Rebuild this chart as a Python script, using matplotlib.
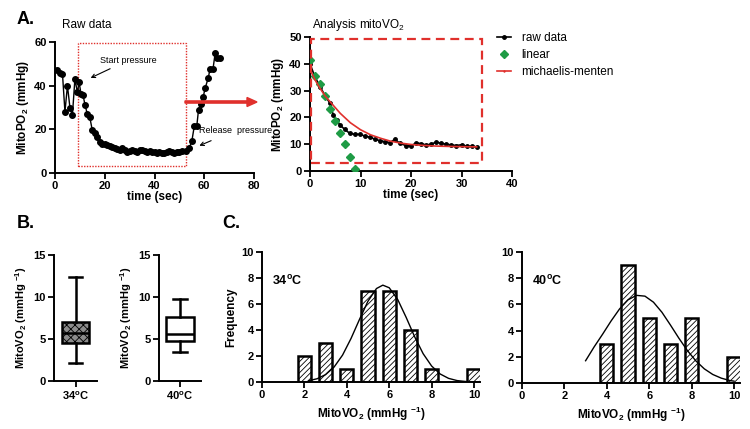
import numpy as np
import matplotlib
matplotlib.use("Agg")
import matplotlib.pyplot as plt
from matplotlib.patches import Rectangle, FancyArrow

plt.rcParams['font.family'] = ['Liberation Sans', 'DejaVu Sans']
plt.rcParams['mathtext.default'] = 'regular'
plt.rcParams['hatch.linewidth'] = 0.6
plt.rcParams['axes.linewidth'] = 1.4

# Panel A: raw data
t_raw = [0.7, 2, 3, 4, 5, 6, 7, 8, 9, 9.7, 10.5, 11.3, 12.1, 13, 14, 15, 16, 16.8, 18, 19,
         20, 21, 22, 23, 24, 25, 26, 27, 28, 29, 30, 31, 32, 33, 34, 35, 36, 37, 38, 39,
         40, 41, 42, 43, 44, 45, 46, 47, 48, 49, 50, 51,
         52.7, 54, 55, 56, 57, 57.7, 58.5, 59.6, 60.4, 61.6, 62.3, 63.5, 64.4, 65.2, 66.5]
y_raw = [47, 46, 45.5, 28, 40, 30, 26.5, 43, 37, 41.5, 36, 35.5, 31, 27, 25.5, 19.5, 18.5, 16.5, 14, 13.5,
         13.5, 13, 12.5, 12, 11.5, 11, 10.5, 11.5, 10.5, 9.5, 10, 10.5, 10, 9.5, 10.5, 10.5, 10, 9.5, 10, 9.5,
         9.5, 9, 9.5, 9, 9, 9.5, 10, 9.5, 9, 9.5, 9.5, 10,
         10, 11.5, 14.5, 21.5, 21.5, 29, 31.5, 35, 39, 43.5, 47.5, 47.5, 55, 52.5, 52.5]

# Panel A: analysis mitoVO2
t_an = [0, 1, 2, 3, 4, 4.6, 5.3, 5.9, 6.9, 7.9, 8.9, 9.9, 10.9, 11.9, 12.9, 13.9, 14.9, 15.8,
        16.8, 17.8, 19, 20, 21, 22, 23, 24, 25, 26, 27, 28, 29, 30, 31, 32, 33]
y_an = [40, 35, 31.5, 28, 25.2, 20.9, 19, 17.2, 15.5, 14, 13.7, 13.7, 13, 12.6, 11.8, 11.3, 10.9, 10.6,
        11.8, 10.3, 9.5, 9.3, 10.5, 10.2, 9.7, 10, 10.8, 10.3, 10, 9.7, 9.5, 9.8, 9.2, 9.2, 9.0]
t_lin = [0, 1, 2, 3, 4, 5, 6, 7, 8, 9]
y_lin = [41.5, 35.5, 32.5, 28, 23, 18.7, 14.3, 10, 5.1, 0.6]
t_mm = [0, 1, 2, 3, 4, 6, 8, 10, 12, 14, 16, 18, 20, 22, 25, 28, 31, 33]
y_mm = [37.8, 34, 30.8, 28, 25.8, 21.5, 18, 15.4, 13.5, 12.2, 11.1, 10.4, 9.9, 9.6, 9.3, 9.15, 9.05, 9.0]

# Panel B: box summaries (whislo, q1, med, q3, whishi)
box34 = [2.2, 4.56, 5.75, 7.0, 12.4]
box40 = [3.5, 4.8, 5.6, 7.58, 9.76]

# Panel C: histograms and fitted curves
bins34 = [2, 3, 4, 5, 6, 7, 8, 10]
freq34 = [2, 3, 1, 7, 7, 4, 1, 1]
fitx34 = [2.2, 2.6, 3.0, 3.4, 3.8, 4.2, 4.6, 5.0, 5.4, 5.7, 6.0, 6.4, 6.8, 7.2, 7.6, 8.0, 8.4, 8.8,
          9.2, 9.6, 10.0]
fity34 = [0.1, 0.25, 0.57, 1.15, 2.07, 3.35, 4.82, 6.22, 7.19, 7.45, 7.25, 6.35, 4.97, 3.48, 2.18,
          1.23, 0.62, 0.28, 0.11, 0.04, 0.01]
bins40 = [4, 5, 6, 7, 8, 10]
freq40 = [3, 9, 5, 3, 5, 2]
fitx40 = [3.0, 3.4, 3.8, 4.2, 4.6, 5.0, 5.4, 5.8, 6.2, 6.6, 7.0, 7.4, 7.8, 8.2, 8.6, 9.0, 9.4, 9.8, 10.0]
fity40 = [1.7, 2.75, 3.72, 4.73, 5.65, 6.35, 6.69, 6.63, 6.17, 5.40, 4.43, 3.42, 2.48, 1.69, 1.08,
          0.65, 0.37, 0.19, 0.14]

W, H = 750, 429
fig = plt.figure(figsize=(7.5, 4.29), dpi=100)


def ax_px(left, top, right, bottom):
    return fig.add_axes([left / W, 1 - bottom / H, (right - left) / W, (bottom - top) / H])


def prism(ax):
    ax.spines['top'].set_visible(False)
    ax.spines['right'].set_visible(False)
    ax.tick_params(width=1.3, length=4, labelsize=8, pad=2)
    for lab in ax.get_xticklabels() + ax.get_yticklabels():
        lab.set_fontweight('bold')


red = '#e0302c'

# ---- A left: raw data
ax1 = ax_px(55, 42, 254, 173)
ax1.plot(t_raw, y_raw, '-o', color='black', lw=1, ms=4)
ax1.set_xlim(0, 80)
ax1.set_ylim(0, 60)
ax1.set_xticks([0, 20, 40, 60, 80])
ax1.set_yticks([0, 20, 40, 60])
ax1.set_xlabel('time (sec)', fontsize=8.5, fontweight='bold', labelpad=0)
ax1.set_ylabel('MitoPO$_2$ (mmHg)', fontsize=8.5, fontweight='bold', labelpad=2)
ax1.add_patch(Rectangle((9.3, 3.2), 43.2, 56.5, fill=False, ec=red, lw=1, ls=(0, (1, 1)),
                        clip_on=False))
ax1.annotate('Start pressure', xy=(13.3, 43), xytext=(18, 50.5), fontsize=6.5,
             arrowprops=dict(arrowstyle='->', color='black', lw=0.8))
ax1.annotate('Release  pressure', xy=(57, 12), xytext=(58, 18.5), fontsize=6.5,
             arrowprops=dict(arrowstyle='->', color='black', lw=0.8, shrinkA=6))
prism(ax1)

# ---- A right: analysis
ax2 = ax_px(310, 37, 512, 171)
ax2.plot(t_an, y_an, '-o', color='black', lw=1.2, ms=2.5, label='raw data', zorder=3)
ax2.plot(t_lin, y_lin, 'D', color='#1e9b45', ms=4, ls='none', label='linear', zorder=4)
ax2.plot(t_mm, y_mm, '-', color=red, lw=1.2, marker='+', ms=2, markevery=[0],
         label='michaelis-menten', zorder=4)
ax2.set_xlim(0, 40)
ax2.set_ylim(0, 50)
ax2.set_xticks([0, 10, 20, 30, 40])
ax2.set_yticks([0, 10, 20, 30, 40, 50])
ax2.set_xlabel('time (sec)', fontsize=8.5, fontweight='bold', labelpad=0)
ax2.set_ylabel('MitoPO$_2$ (mmHg)', fontsize=8.5, fontweight='bold', labelpad=2)
ax2.add_patch(Rectangle((0.2, 3.1), 33.8, 46.2, fill=False, ec=red, lw=1.6, ls=(0, (4, 2.5)),
                        clip_on=False, zorder=5))
prism(ax2)
fig.legend(*ax2.get_legend_handles_labels(), loc='upper left',
           bbox_to_anchor=(492 / W, 1 - 27 / H), frameon=False, fontsize=8.5,
           handlelength=1.2, labelspacing=0.45, handletextpad=0.9, borderaxespad=0)

fig.text(17 / W, 1 - 20 / H, 'A.', fontsize=13, fontweight='bold', va='center')
fig.text(62 / W, 1 - 25 / H, 'Raw data', fontsize=8.5, va='center')
fig.text(312 / W, 1 - 25 / H, 'Analysis mitoVO$_2$', fontsize=8.5, va='center')
fig.patches.append(FancyArrow(
    185 / W, 1 - 102 / H, 72 / W, 0, width=2.2 / H, head_width=9 / H, head_length=10 / W,
    length_includes_head=True, color=red, transform=fig.transFigure, figure=fig))

# ---- B: box plots
for (l, r, stats, lab, fc, hatch) in [(54, 97, box34, '34$^{o}$C', '#8c8c8c', 'xxxx'),
                                      (159, 201, box40, '40$^{o}$C', 'white', None)]:
    ax = ax_px(l, 255, r, 381)
    st = [dict(whislo=stats[0], q1=stats[1], med=stats[2], q3=stats[3], whishi=stats[4])]
    ax.bxp(st, positions=[0.5], widths=0.65, showfliers=False, patch_artist=True,
           boxprops=dict(lw=1.8, ec='black', fc=fc, hatch=hatch),
           medianprops=dict(color='black', lw=1.8),
           whiskerprops=dict(lw=1.8), capprops=dict(lw=1.8))
    ax.set_xlim(0, 1)
    ax.set_ylim(0, 15)
    ax.set_yticks([0, 5, 10, 15])
    ax.set_xticks([0.5])
    ax.set_xticklabels([lab])
    ax.set_ylabel('MitoVO$_2$ (mmHg $^{-1}$)', fontsize=8, fontweight='bold', labelpad=3)
    prism(ax)

fig.text(17 / W, 1 - 223 / H, 'B.', fontsize=13, fontweight='bold', va='center')
fig.text(222 / W, 1 - 223 / H, 'C.', fontsize=13, fontweight='bold', va='center')

# ---- C: histograms
for (l, r, bot, xs, fs, fx, fy, lab, ylab) in [
        (262, 480, 382, bins34, freq34, fitx34, fity34, '34$^{o}$C', 'Frequency'),
        (522, 740, 383, bins40, freq40, fitx40, fity40, '40$^{o}$C', None)]:
    ax = ax_px(l, 252, r, bot)
    ax.bar(xs, fs, width=0.62, color='white', edgecolor='black', lw=1.8, hatch='//////')
    ax.plot(fx, fy, color='black', lw=1)
    ax.set_xlim(0, (r - l) / 21.2)
    ax.set_ylim(0, 10)
    ax.set_xticks([0, 2, 4, 6, 8, 10])
    ax.set_yticks([0, 2, 4, 6, 8, 10])
    ax.set_xlabel('MitoVO$_2$ (mmHg $^{-1}$)', fontsize=8.5, fontweight='bold', labelpad=3)
    if ylab:
        ax.set_ylabel(ylab, fontsize=8.5, fontweight='bold', labelpad=3)
    ax.text(0.45, 7.8, lab, fontsize=9, fontweight='bold', va='center')
    prism(ax)

fig.savefig('out.png', dpi=100)
